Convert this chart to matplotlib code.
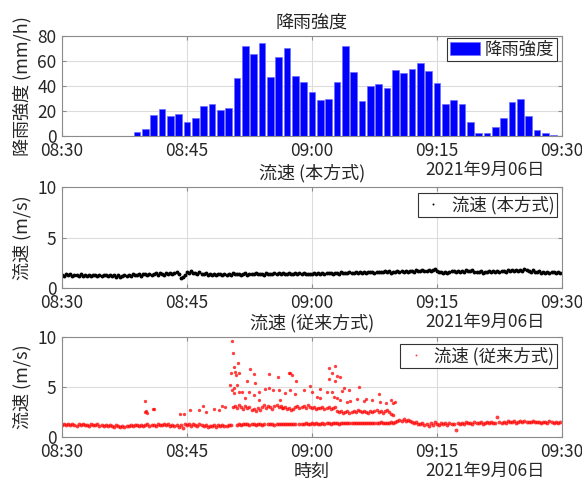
import numpy as np
import pandas as pd
import matplotlib
matplotlib.use("Agg")
import matplotlib.pyplot as plt
import matplotlib.dates as mdates

plt.rcParams["font.family"] = ["Noto Sans CJK JP", "DejaVu Sans"]
plt.rcParams["font.size"] = 12

# ---- data ----
start = pd.Timestamp("2021-09-06 08:30")
date_label = "2021年9月06日"

# rainfall intensity, one bar per minute from 08:30
rain = [0, 0, 0, 0, 0, 0, 0, 0, 0,
        3.2, 5.6, 17.0, 21.9, 16.0, 17.3, 11.5, 14.4, 23.7, 25.6,
        21.0, 22.7, 46.4, 71.7, 65.3, 74.7, 47.0, 63.2, 70.1, 48.0,
        43.2, 35.2, 28.5, 29.6, 42.9, 71.7, 51.2, 28.0, 40.3, 41.9,
        38.1, 52.8, 50.7, 53.9, 58.4, 52.0, 42.7, 25.9, 29.1, 25.9,
        11.2, 2.7, 2.7, 7.2, 14.1, 26.9, 29.9, 16.0, 5.1, 2.7, 0.5]

# flow velocity, new method (every 15 s from 08:30)
v_new = [
    1.30, 1.22, 1.38, 1.26, 1.34, 1.20, 1.32, 1.25, 1.22, 1.35, 1.20, 1.31,
    1.18, 1.30, 1.20, 1.28, 1.24, 1.15, 1.29, 1.19, 1.25, 1.32, 1.20, 1.29,
    1.18, 1.27, 1.12, 1.24, 1.10, 1.22, 1.27, 1.16, 1.30, 1.20, 1.36, 1.25,
    1.30, 1.40, 1.23, 1.35, 1.36, 1.26, 1.42, 1.30, 1.38, 1.47, 1.33, 1.44,
    1.41, 1.32, 1.48, 1.36, 1.46, 1.36, 1.52, 1.57, 1.42, 0.95, 1.05, 1.30,
    1.57, 1.46, 1.64, 1.50, 1.53, 1.43, 1.60, 1.40, 1.38, 1.47, 1.28, 1.41,
    1.31, 1.42, 1.26, 1.37, 1.36, 1.26, 1.42, 1.32, 1.39, 1.30, 1.44, 1.35,
    1.36, 1.42, 1.31, 1.39, 1.44, 1.33, 1.41, 1.36, 1.38, 1.46, 1.34, 1.42,
    1.41, 1.33, 1.45, 1.37, 1.43, 1.36, 1.48, 1.39, 1.46, 1.38, 1.50, 1.42,
    1.40, 1.48, 1.41, 1.36, 1.45, 1.39, 1.49, 1.41, 1.46, 1.38, 1.43, 1.36,
    1.35, 1.44, 1.37, 1.46, 1.40, 1.48, 1.41, 1.50, 1.45, 1.52, 1.43, 1.49,
    1.51, 1.43, 1.54, 1.46, 1.53, 1.46, 1.57, 1.49, 1.47, 1.56, 1.49, 1.58,
    1.52, 1.60, 1.48, 1.56, 1.55, 1.62, 1.51, 1.59, 1.63, 1.54, 1.61, 1.67,
    1.57, 1.64, 1.53, 1.61, 1.60, 1.67, 1.56, 1.64, 1.62, 1.70, 1.58, 1.67,
    1.71, 1.62, 1.74, 1.65, 1.68, 1.76, 1.64, 1.73, 1.76, 1.68, 1.80, 1.84,
    1.66, 1.56, 1.63, 1.53, 1.61, 1.50, 1.59, 1.64, 1.66, 1.56, 1.70, 1.61,
    1.71, 1.62, 1.77, 1.67, 1.66, 1.74, 1.58, 1.57, 1.54, 1.64, 1.48, 1.59,
    1.60, 1.68, 1.56, 1.65, 1.62, 1.70, 1.58, 1.67, 1.71, 1.63, 1.74, 1.67,
    1.75, 1.66, 1.80, 1.71, 1.81, 1.73, 1.87, 1.77, 1.71, 1.62, 1.74, 1.60,
    1.57, 1.67, 1.53, 1.61, 1.51, 1.60, 1.48, 1.57, 1.56, 1.46, 1.55, 1.49,
]

# flow velocity, conventional method: main band (every 15 s from 08:30)
v_old = [
    1.20, 1.30, 1.15, 1.25, 1.18, 1.28, 1.22, 1.12, 1.25, 1.15, 1.30, 1.20,
    1.22, 1.10, 1.28, 1.18, 1.15, 1.25, 1.08, 1.20, 1.12, 1.22, 1.05, 1.18,
    1.10, 0.98, 1.15, 1.05, 1.02, 1.12, 0.95, 1.08, 1.10, 1.20, 1.05, 1.15,
    1.18, 1.08, 1.22, 1.12, 1.15, 1.25, 1.10, 1.20, 1.22, 1.12, 1.28, 1.18,
    1.20, 1.30, 1.15, 1.25, 1.10, 1.22, 1.05, 1.18, 1.00, 1.15, 0.92, 1.25,
    1.20, 1.30, 1.12, 1.25, 1.22, 1.10, 1.28, 1.15, 1.05, 1.18, 1.00, 1.12,
    1.10, 1.20, 1.02, 1.15, 1.08, 1.22, 1.12, 1.05, 1.15, 1.20, np.nan, np.nan,
    1.22, 1.28, 1.20, 1.25, 1.25, 1.30, 1.22, 1.27, 1.28, 1.24, 1.30, 1.26,
    1.22, 1.28, np.nan, 1.30, 1.26, 1.30, 1.24, 1.28, 1.30, 1.25, 1.32, 1.27,
    1.28, 1.33, 1.26, 1.30, 1.32, np.nan, 1.28, 1.34, 1.30, 1.35, 1.28, 1.33,
    1.35, 1.30, 1.37, 1.32, 1.33, 1.38, 1.31, 1.36, 1.36, 1.32, 1.39, 1.35,
    1.38, 1.34, 1.40, 1.36, 1.37, 1.41, 1.35, 1.39, 1.40, 1.36, 1.42, 1.38,
    1.39, 1.43, 1.37, 1.41, 1.42, 1.38, 1.44, 1.40, 1.41, 1.45, 1.39, 1.43,
    1.44, 1.40, 1.46, 1.42, 1.50, 1.62, 1.70, 1.58, 1.75, 1.60, 1.68, 1.55,
    1.50, 1.38, 1.45, 1.30, 1.25, 1.40, 1.15, 1.32, 1.10, 1.35, 1.22, 1.45,
    1.30, 1.15, 1.38, 1.25, 1.35, 1.20, 1.42, 1.30, 1.28, 0.65, 1.40, 1.32,
    1.38, 1.25, 1.45, 1.35, 1.40, 1.30, 1.48, 1.36, 1.35, 1.45, 1.30, 1.42,
    1.45, 1.38, 1.52, 1.40, 1.42, 2.00, 1.48, 1.38, 1.50, 1.42, 1.55, 1.46,
    1.48, 1.55, 1.44, 1.52, 1.55, 1.48, 1.60, 1.50, 1.52, 1.45, 1.58, 1.48,
    1.45, 1.52, 1.40, 1.48, 1.50, 1.42, 1.55, 1.46, 1.44, 1.50, 1.40, 1.48,
]

# conventional method: upper band (every 15 s from 08:50:30)
v_old_band = [
    3.0, 3.1,
    2.9, 3.2, 3.0, 2.8, 3.1, 2.9, 3.0, 2.7, 2.8, 2.6, 2.9, 2.7,
    3.0, 3.2, 2.9, 3.1, 3.0, 2.8, 3.1, 3.2, 3.0, 3.1, 2.9, 3.0,
    2.8, 2.9, 2.7, 2.8, 3.0, 3.1, 2.9, 3.0, 3.1, 2.9, 3.2, 3.0,
    2.9, 3.0, 2.8, 2.9, 2.9, 3.0, 2.8, 2.9, 3.0, 2.8, 2.9, 3.0,
    2.6, 2.5, 2.6, 2.4, 2.5, 2.6, 2.4, 2.5, 2.6, 2.5, 2.7, 2.6,
    2.5, 2.6, 2.5, 2.4, 2.6, 2.5, 2.6, 2.7, 2.5, 2.6, 2.4, 2.6,
    2.7, 2.5, 2.3, 2.2,
]

# conventional method: scattered high readings (minutes after 08:30, m/s)
hi_min = [10.0, 10.0, 10.1, 10.2, 10.9, 11.0, 14.2, 14.6, 15.4, 16.5, 16.9,
          17.3, 18.2, 18.8, 19.2, 19.6,
          20.2, 20.3, 20.4, 20.4, 20.5, 20.6, 20.6, 20.7, 20.8, 20.9, 21.0,
          21.1, 21.2, 21.2, 21.6, 22.0, 22.2, 22.5, 22.6, 23.0, 23.1, 23.2,
          23.6, 23.7, 24.4, 24.8, 24.9, 25.3, 25.9, 26.0, 26.2, 26.4, 26.8,
          27.3, 27.4, 27.4, 27.6, 28.0, 28.1, 29.0, 29.8, 30.0, 30.6, 31.0,
          31.0, 31.8, 32.1, 32.1, 32.4, 32.4, 32.6, 32.8, 32.8, 33.0, 33.0,
          33.4, 33.4, 33.6, 33.8, 34.2, 34.5, 34.6, 35.4, 35.6, 36.2, 36.5,
          37.2, 38.0, 38.2, 38.9, 39.5, 39.7, 40.0]
hi_val = [3.6, 2.5, 2.6, 2.4, 2.8, 2.8, 2.3, 2.3, 2.7, 2.7, 3.1,
          2.5, 2.8, 2.7, 3.1, 3.0,
          5.2, 6.4, 9.6, 4.7, 8.4, 7.0, 4.9, 4.4, 6.5, 6.2, 5.2,
          7.4, 6.4, 4.5, 4.5, 3.9, 5.6, 4.5, 6.8, 6.3, 4.2, 5.4,
          4.5, 3.7, 4.8, 4.9, 6.3, 4.7, 6.0, 4.7, 3.7, 2.9, 4.4,
          6.4, 6.4, 4.7, 6.2, 4.3, 5.6, 4.7, 5.1, 4.5, 4.0, 3.9,
          4.8, 4.5, 6.9, 5.8, 6.4, 4.5, 4.0, 7.1, 5.6, 6.1, 3.9,
          6.0, 3.7, 4.6, 4.9, 3.5, 4.7, 3.6, 3.8, 5.0, 3.6, 3.8,
          3.7, 4.3, 3.5, 3.4, 3.7, 3.4, 3.5]

# ---- time axes ----
t_rain = start + pd.to_timedelta(np.arange(len(rain)), unit="min")
t_new = start + pd.to_timedelta(np.arange(len(v_new)) * 15, unit="s")
t_old = start + pd.to_timedelta(np.arange(len(v_old)) * 15, unit="s")
t_band = start + pd.Timedelta(minutes=20.5) + pd.to_timedelta(np.arange(len(v_old_band)) * 15, unit="s")
t_hi = start + pd.to_timedelta(np.array(hi_min), unit="min")

edge = "#8c8c8c"
txt = "#262626"

fig = plt.figure(figsize=(5.82, 4.8), dpi=100)
ax1 = fig.add_axes([0.1065, 0.7167, 0.859, 0.2083])
ax2 = fig.add_axes([0.1065, 0.400, 0.859, 0.2104])
ax3 = fig.add_axes([0.1065, 0.0896, 0.859, 0.2083])


def style(ax, ymax, yticks):
    ax.set_xlim(start, start + pd.Timedelta(hours=1))
    ax.set_ylim(0, ymax)
    ax.set_yticks(yticks)
    ax.xaxis.set_major_locator(mdates.MinuteLocator(byminute=[0, 15, 30, 45]))
    ax.xaxis.set_major_formatter(mdates.DateFormatter("%H:%M"))
    ax.grid(True, color="#dcdcdc", linewidth=0.8)
    ax.set_axisbelow(True)
    ax.tick_params(direction="in", length=3, color=edge, labelcolor=txt,
                   top=True, right=True, labelsize=12.5, pad=4)
    for s in ax.spines.values():
        s.set_color(edge)
        s.set_linewidth(0.8)
    # date stamp under the tick labels (MATLAB style)
    ax.text(0.966, -0.34, date_label, transform=ax.transAxes, ha="right",
            va="center", color=txt, fontsize=12.5)


def legend(ax, top, **kw):
    leg = ax.legend(loc="upper right", bbox_to_anchor=(0.99, top),
                    borderaxespad=0, fancybox=False, framealpha=1,
                    edgecolor="#333333", fontsize=12.5, borderpad=0.15,
                    handletextpad=0.3, **kw)
    leg.get_frame().set_linewidth(0.8)
    for t in leg.get_texts():
        t.set_color(txt)


# rainfall
ax1.bar(t_rain, rain, width=0.8 / 1440, color="#0000ff",
        edgecolor="#6f6fff", linewidth=0.5, label="降雨強度")
style(ax1, 80, [0, 20, 40, 60, 80])
ax1.set_title("降雨強度", fontsize=13, color=txt, pad=6)
ax1.set_ylabel("降雨強度 (mm/h)", color=txt, fontsize=13)
legend(ax1, 0.98, handlelength=1.7)

# new method
ax2.plot(t_new, v_new, linestyle="none", marker="o", ms=2.8, mew=0,
         color="black", label="流速 (本方式)")
style(ax2, 10, [0, 5, 10])
ax2.set_title("流速 (本方式)", fontsize=13, color=txt, pad=6)
ax2.set_ylabel("流速 (m/s)", color=txt, fontsize=13)
legend(ax2, 0.94, handlelength=1.5, markerscale=0.5)

# conventional method
ax3.plot(t_old, v_old, linestyle="none", marker="o", ms=2.8, mew=0,
         color="red", alpha=0.75, label="流速 (従来方式)")
ax3.plot(t_band, v_old_band, linestyle="none", marker="o", ms=2.6, mew=0,
         color="red", alpha=0.75)
ax3.plot(t_hi, hi_val, linestyle="none", marker="o", ms=2.4, mew=0,
         color="red", alpha=0.75)
style(ax3, 10, [0, 5, 10])
ax3.set_title("流速 (従来方式)", fontsize=13, color=txt, pad=6)
ax3.set_ylabel("流速 (m/s)", color=txt, fontsize=13)
ax3.set_xlabel("時刻", color=txt, labelpad=2, fontsize=13)
legend(ax3, 0.93, handlelength=1.5, markerscale=0.5)

fig.savefig("out.png", dpi=100)
